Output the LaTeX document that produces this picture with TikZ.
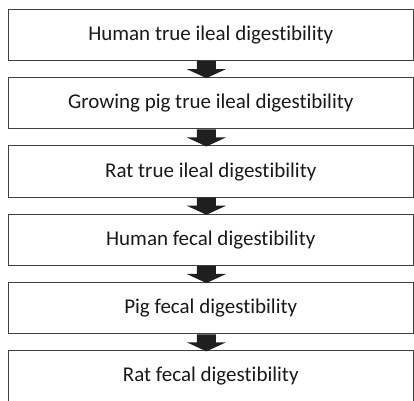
\documentclass[tikz,border=0pt]{standalone}
\usepackage{fontspec}
\setmainfont{Carlito}[Ligatures={NoCommon}]
\begin{document}
\begin{tikzpicture}[x=1pt,y=-1pt,
  stagebox/.style={draw=black!75,line width=0.9pt,minimum width=405.5pt,minimum height=51.3pt,inner sep=0pt,
    font=\fontsize{21}{25}\selectfont,text=black!90},
  arr/.style={fill=black!88}]
\useasboundingbox (0,0) rectangle (414,400);
\begin{scope}
\clip (0,0) rectangle (414,400);
\node[stagebox] (b1) at (210.75,34.95) {Human true ileal digestibility};
\node[stagebox] (b2) at (210.75,103.25) {Growing pig true ileal digestibility};
\node[stagebox] (b3) at (210.75,171.55) {Rat true ileal digestibility};
\node[stagebox] (b4) at (210.75,239.85) {Human fecal digestibility};
\node[stagebox] (b5) at (210.75,308.15) {Pig fecal digestibility};
\node[stagebox] (b6) at (210.75,376.45) {Rat fecal digestibility};
\newcommand\flowarrow[2]{\fill[arr] ([xshift=-13.85pt]#1.south) -- ([xshift=-13.85pt,yshift=-8pt]#1.south) -- ([xshift=-24.05pt,yshift=-8pt]#1.south) -- ([xshift=-4.35pt,yshift=-1pt]#2.north) -- ([xshift=15.35pt,yshift=-8pt]#1.south) -- ([xshift=5.15pt,yshift=-8pt]#1.south) -- ([xshift=5.15pt]#1.south) -- cycle;}
\flowarrow{b1}{b2}
\flowarrow{b2}{b3}
\flowarrow{b3}{b4}
\flowarrow{b4}{b5}
\flowarrow{b5}{b6}
\end{scope}
\end{tikzpicture}
\end{document}
